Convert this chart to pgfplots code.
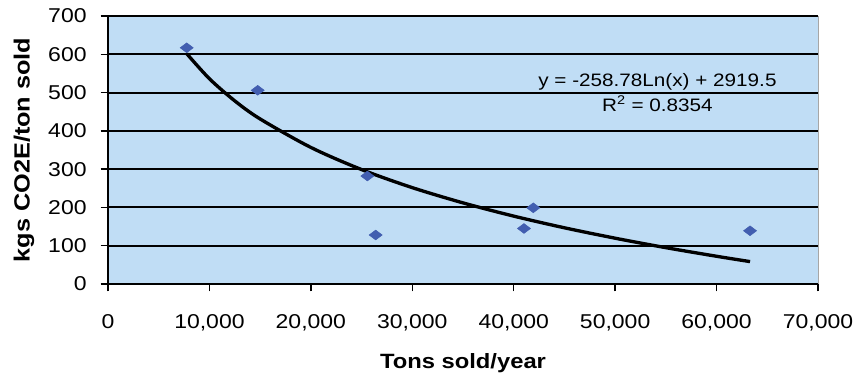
\documentclass[border=0pt]{standalone}
\usepackage{pgfplots}
\pgfplotsset{compat=1.18}
\usepackage{fontspec}
\setmainfont[FakeStretch=1.15]{Liberation Sans}
\definecolor{bgblue}{RGB}{192,221,245}
\definecolor{ptblue}{RGB}{66,94,176}
\begin{document}
\begin{tikzpicture}
\begin{axis}[
  name=ax,
  scale only axis,
  width=532.5pt, height=201pt,
  xmin=0, xmax=70000, ymin=0, ymax=700,
  xtick={0,10000,...,70000},
  ytick={0,100,...,700},
  axis background/.style={fill=bgblue, draw=gray!70},
  axis x line=bottom, axis y line=left,
  axis line style={-, black, line width=1.1pt},
  ymajorgrids, grid style={black, line width=1.4pt},
  tick align=outside, major tick length=5.5pt,
  tick style={black, line width=1pt},
  scaled x ticks=false,
  /pgf/number format/assume math mode=true,
  /pgf/number format/1000 sep={,},
  ticklabel style={font=\fontsize{15}{17}\selectfont},
  xticklabel style={anchor=north, yshift=-13.5pt},
  yticklabel={\pgfmathprintnumber{\tick}\hspace*{7pt}},
  xlabel={\bfseries Tons sold/year},
  ylabel={\bfseries kgs CO2E/ton sold},
  xlabel style={at={(axis description cs:0.5,-0.2948)}, anchor=center, font=\fontsize{15.5}{17}\selectfont},
  ylabel style={at={(axis description cs:-0.1183,0.5)}, anchor=center, rotate=0, font=\fontsize{16.5}{18}\selectfont},
  clip=false,
]
\addplot[black, line width=2.5pt, smooth] coordinates {
 (7760,601.7) (10000,536.1) (12500,478.3) (15000,431.1) (20000,356.7)
 (25000,298.9) (30000,251.7) (35000,211.9) (40000,177.3) (45000,146.8)
 (50000,119.6) (55000,94.9) (60000,72.4) (63300,58.5)
};
\addplot[only marks, mark=diamond*, mark size=4.9pt, color=ptblue,
  every mark/.append style={rotate=90}] coordinates {
 (7760,617) (14760,506) (25570,282) (26390,128) (41010,145) (41930,199) (63300,139)
};
\node[align=center, font=\fontsize{13.5}{19}\selectfont] at (axis cs:54170,500)
  {y = -258.78Ln(x) + 2919.5\\R\textsuperscript{2} = 0.8354};
\end{axis}
\pgfresetboundingbox
\path ([xshift=-81pt,yshift=-69.75pt]ax.south west) rectangle ([xshift=30pt,yshift=12pt]ax.north east);
\end{tikzpicture}
\end{document}
